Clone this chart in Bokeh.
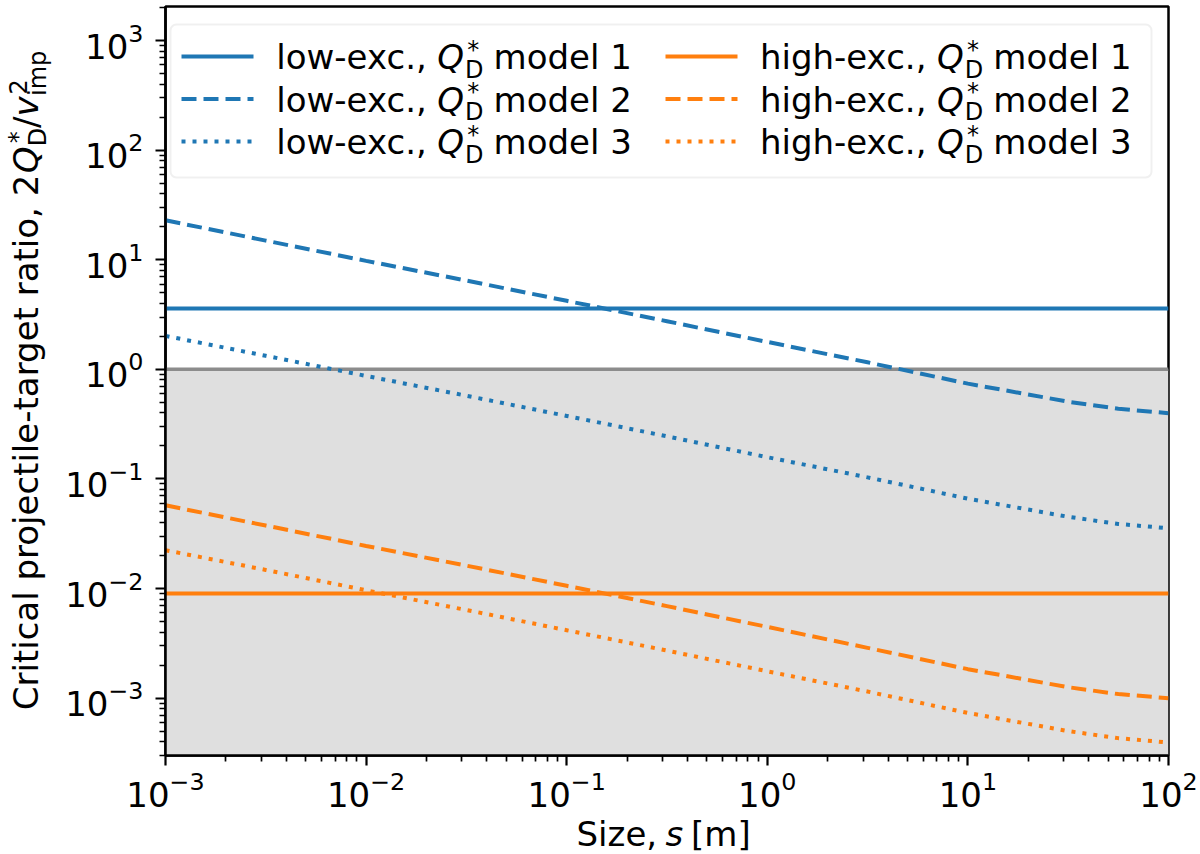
import math
from bokeh.plotting import figure
from bokeh.layouts import column, row
from bokeh.models import Range1d, FixedTicker, BoxAnnotation, Span, Label, Arrow
from bokeh.embed import file_html
from bokeh.resources import INLINE

# ---------------- data ----------------
size_m = [1e-3, 3.16e-3, 1e-2, 3.16e-2, 0.1, 0.316, 1.0, 3.16, 10.0, 31.6, 56.2, 100.0]
low_model2 = [22.9, 14.96, 9.77, 6.46, 4.22, 2.75, 1.78, 1.16, 0.741, 0.507, 0.437, 0.398]
low_model3 = [2.02, 1.33, 0.871, 0.575, 0.376, 0.245, 0.158, 0.1035, 0.0661, 0.0452, 0.0389, 0.0355]
high_model2 = [0.0575, 0.0376, 0.0245, 0.0162, 0.0106, 0.00692, 0.00447, 0.00288, 0.00184, 0.00126, 0.00109, 0.00100]
high_model3 = [0.0224, 0.0148, 0.00966, 0.00638, 0.00417, 0.00272, 0.00176, 0.00115, 0.000733, 0.000501, 0.000432, 0.000394]
size_span = [1e-3, 1e2]
low_model1 = [3.6, 3.6]
high_model1 = [0.009, 0.009]
threshold = 1.0
x_ticks = [1e-3, 1e-2, 1e-1, 1e0, 1e1, 1e2]
y_ticks = [1e-3, 1e-2, 1e-1, 1e0, 1e1, 1e2, 1e3]
x_limits = (1e-3, 1e2)
y_limits = (3.0e-4, 2045.0)

legend_labels_low = ["low-exc., ", "low-exc., ", "low-exc., "]
legend_labels_high = ["high-exc., ", "high-exc., ", "high-exc., "]
legend_models = ["model 1", "model 2", "model 3"]

BLUE = "#1f77b4"
ORANGE = "#ff7f0e"
FONT = "DejaVu Sans"
FS = 34
SFS = 24
LW = 4
DASH = "15 7"
DOT = "4 7"
# offset between requested alphabetic baseline and where text lands
OFF_BIG = 11.5
OFF_SMALL = 8.0

MAIN_H = 814
XLAB_H = 854 - MAIN_H

# ---------------- main plot ----------------
p = figure(width=1140, height=MAIN_H, frame_width=1003, frame_height=749,
           x_axis_type="log", y_axis_type="log",
           x_range=Range1d(*x_limits), y_range=Range1d(*y_limits),
           output_backend="svg", toolbar_location=None,
           min_border_left=105, min_border_right=32, min_border_top=6,
           min_border_bottom=MAIN_H - 755)
p.background_fill_color = "white"
p.border_fill_color = "white"
p.xgrid.grid_line_color = None
p.ygrid.grid_line_color = None
p.outline_line_color = "black"
p.outline_line_width = 2.5
p.outline_line_alpha = 1.0


def minor_between(lo, hi):
    out = []
    for k in range(int(math.floor(math.log10(lo))) - 1, int(math.ceil(math.log10(hi))) + 1):
        for m in range(2, 10):
            v = m * 10.0 ** k
            if lo <= v <= hi:
                out.append(v)
    return out


p.xaxis.ticker = FixedTicker(ticks=x_ticks, minor_ticks=minor_between(*x_limits))
p.yaxis.ticker = FixedTicker(ticks=y_ticks, minor_ticks=minor_between(*y_limits))
for ax in (p.xaxis, p.yaxis):
    ax.axis_line_width = 2.5
    ax.axis_line_color = "black"
    ax.major_tick_line_width = 2.2
    ax.minor_tick_line_width = 1.7
    ax.major_tick_out = 10
    ax.major_tick_in = 0
    ax.minor_tick_out = 6
    ax.minor_tick_in = 0
    ax.major_label_text_font = FONT
    ax.major_label_text_font_size = f"{FS}px"
    ax.major_label_text_color = "black"
p.xaxis.major_label_standoff = 5
p.yaxis.major_label_standoff = 12

p.add_layout(BoxAnnotation(top=threshold, fill_color="#dfdfdf", fill_alpha=1.0,
                           line_alpha=0.0, level="underlay"))
p.add_layout(Span(location=threshold, dimension="width", line_color="#8c8c8c",
                  line_width=3.5, level="underlay"))

p.line(size_span, low_model1, line_color=BLUE, line_width=LW)
p.line(size_m, low_model2, line_color=BLUE, line_width=LW, line_dash=DASH)
p.line(size_m, low_model3, line_color=BLUE, line_width=LW, line_dash=DOT)
p.line(size_span, high_model1, line_color=ORANGE, line_width=LW)
p.line(size_m, high_model2, line_color=ORANGE, line_width=LW, line_dash=DASH)
p.line(size_m, high_model3, line_color=ORANGE, line_width=LW, line_dash=DOT)


def add_text(fig, x, y, text, size=FS, style="normal", angle=0.0):
    fig.add_layout(Label(x=x, y=y, x_units="screen", y_units="screen", text=text,
                         text_font=FONT, text_font_size=f"{size}px", text_font_style=style,
                         text_color="black", text_align="left", text_baseline="alphabetic",
                         angle=angle))


p.add_layout(BoxAnnotation(left=5, right=986, bottom=578, top=731,
                           left_units="screen", right_units="screen",
                           bottom_units="screen", top_units="screen",
                           fill_color="white", fill_alpha=0.8,
                           line_color="#cccccc", line_width=2, border_radius=6))

handle_y = [699, 656.5, 614]
text_base = [686.7, 644.2, 601.7]
dashes = ["solid", DASH, DOT]
cols = [(16, 88, 110.8, 271.8, BLUE, legend_labels_low),
        (500, 572, 594.4, 771.5, ORANGE, legend_labels_high)]
for hx0, hx1, tx, qx, col, labels in cols:
    for i in range(3):
        b = text_base[i]
        p.add_layout(Arrow(end=None, x_start=hx0, y_start=handle_y[i], x_end=hx1, y_end=handle_y[i],
                           start_units="screen", end_units="screen",
                           line_color=col, line_width=LW, line_dash=dashes[i]))
        add_text(p, tx, b + OFF_BIG, labels[i])
        add_text(p, qx, b + OFF_BIG, "Q", style="italic")
        add_text(p, qx + 27.8, b - 8.7 + OFF_SMALL, "D", size=SFS)
        add_text(p, qx + 30.0, b + 11.0 + OFF_SMALL, "*", size=SFS)
        add_text(p, qx + 56.3, b + OFF_BIG, legend_models[i])


def blank_fig(w, h):
    f = figure(width=w, height=h, x_range=Range1d(0, 1), y_range=Range1d(0, 1),
               x_axis_location=None, y_axis_location=None,
               output_backend="svg", toolbar_location=None,
               min_border=0, min_border_left=0, min_border_right=0,
               min_border_top=0, min_border_bottom=0)
    f.outline_line_color = None
    f.xgrid.grid_line_color = None
    f.ygrid.grid_line_color = None
    f.background_fill_color = "white"
    f.border_fill_color = "white"
    return f


# ---------------- y axis label (rotated; frame aligned with the main frame) ----------------
ylab = blank_fig(60, MAIN_H)
A = math.pi / 2
bx = 36.5
add_text(ylab, bx - OFF_BIG, 45.2, "Critical projectile-target ratio, 2", angle=A)
add_text(ylab, bx - OFF_BIG, 582.2, "Q", style="italic", angle=A)
add_text(ylab, bx + 8.7 - OFF_SMALL, 609.2, "D", size=SFS, angle=A)
add_text(ylab, bx - 11.0 - OFF_SMALL, 612.2, "*", size=SFS, angle=A)
add_text(ylab, bx - OFF_BIG, 627.5, "/", angle=A)
add_text(ylab, bx - OFF_BIG, 639.0, "v", style="italic", angle=A)
add_text(ylab, bx + 8.7 - OFF_SMALL, 659.5, "imp", size=SFS, angle=A)
add_text(ylab, bx - 11.0 - OFF_SMALL, 661.0, "2", size=SFS, angle=A)

# ---------------- x axis label ----------------
xlab = blank_fig(1200, XLAB_H)
xb = (854 - 845) + OFF_BIG
add_text(xlab, 576, xb, "Size,")
add_text(xlab, 665, xb, "s", style="italic")
add_text(xlab, 690.5, xb, "[m]")

layout = column(row(ylab, p), xlab)
open("out.html", "w").write(file_html(layout, INLINE))
